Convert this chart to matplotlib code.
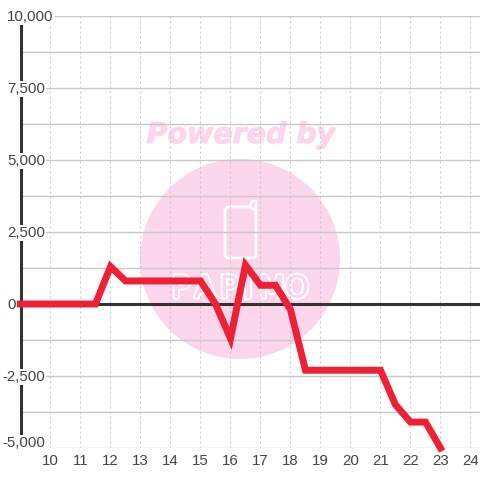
import matplotlib
matplotlib.use("Agg")
import matplotlib.pyplot as plt
import matplotlib.patheffects as pe
from matplotlib.patches import Circle, FancyBboxPatch, Polygon

# datos
horas = [9, 11.5, 12, 12.5, 15, 15.5, 16, 16.5, 17, 17.5, 18, 18.5, 21, 21.5, 22, 22.5, 23]
valores = [0, 0, 1300, 800, 800, 0, -1200, 1350, 650, 650, -200, -2300, -2300, -3500, -4100, -4100, -5000]
xticks = list(range(10, 25))
yticks = [-5000, -2500, 0, 2500, 5000, 7500, 10000]
ylabels = ["-5,000", "-2,500", "0", "2,500", "5,000", "7,500", "10,000"]
yminor = [-3750, -1250, 1250, 3750, 6250, 8750]
letras = ["P", "A", "P", "I", "M", "O"]
letras_x = [181, 205, 229, 248, 272, 297]

plt.rcParams["font.family"] = ["Liberation Sans", "DejaVu Sans"]
rosa = "#fbd6ec"
texto = "#444444"

fig = plt.figure(figsize=(4.8, 4.8), dpi=100)

# marca de agua, en pixeles
fondo = fig.add_axes([0, 0, 1, 1], zorder=0)
fondo.set_xlim(0, 480)
fondo.set_ylim(480, 0)
fondo.axis("off")
fondo.add_patch(Circle((240, 259), 100, fc=rosa, ec="none"))
fondo.add_patch(FancyBboxPatch((225, 207), 31, 51, boxstyle="round,pad=0,rounding_size=4",
                               fc="none", ec="white", lw=2))
fondo.add_patch(Polygon([[250, 207], [252, 201], [256, 201], [256, 211]], closed=True,
                        fc=rosa, ec="white", lw=1.8))
fondo.text(241, 135, "Powered by", color=rosa, fontsize=20.5, family="DejaVu Sans",
           weight="bold", style="oblique", ha="center", va="center",
           path_effects=[pe.withStroke(linewidth=0.8, foreground=rosa)])
for l, x in zip(letras, letras_x):
    fondo.text(x, 289, l, color=rosa, fontsize=22, family="Liberation Sans Narrow",
               ha="center", va="center",
               path_effects=[pe.withStroke(linewidth=3, foreground="white"), pe.Normal()])

# grafico principal
ax = fig.add_axes([20.5 / 480, 32 / 480, 459.5 / 480, 432 / 480], zorder=1)
ax.patch.set_alpha(0)
ax.set_xlim(9, 24.317)
ax.set_ylim(-5000, 10000)

ax.set_xticks(xticks)
ax.set_yticks(yticks)
ax.set_yticks(yminor, minor=True)
ax.set_yticklabels([])
ax.grid(True, axis="y", which="both", color="#c8c8c8", lw=1.0, zorder=1)
ax.grid(True, axis="x", which="major", color="#c8c8c8", lw=0.8, ls=(0, (1.8, 2.7)), zorder=1)
ax.tick_params(axis="both", which="both", length=0)
ax.tick_params(axis="x", labelsize=10.8, labelcolor=texto, pad=4.5)
ax.set_axisbelow(True)

for lado in ["top", "right", "bottom"]:
    ax.spines[lado].set_visible(False)
ax.spines["left"].set_color("#333333")
ax.spines["left"].set_linewidth(2.2)
ax.spines["left"].set_zorder(2)

ax.axhline(0, color="#333333", lw=2.2, zorder=2)
ax.plot(horas, valores, color="#ee2036", lw=5, solid_joinstyle="miter",
        solid_capstyle="projecting", clip_on=False, zorder=4)

# etiquetas del eje y con fondo blanco, tapan la linea del eje
for v, et in zip(yticks, ylabels):
    px = 2 if et.startswith("-") else 7
    py = 5 if v == yticks[0] else -1  # la ultima etiqueta va mas arriba
    ax.annotate(et, xy=(0, v), xycoords=("figure pixels", "data"), xytext=(px, py),
                textcoords="offset pixels", ha="left", va="center", fontsize=10.8, color=texto,
                bbox=dict(fc="white", ec="none", pad=1), zorder=3, annotation_clip=False)

fig.savefig("out.png", dpi=100)
